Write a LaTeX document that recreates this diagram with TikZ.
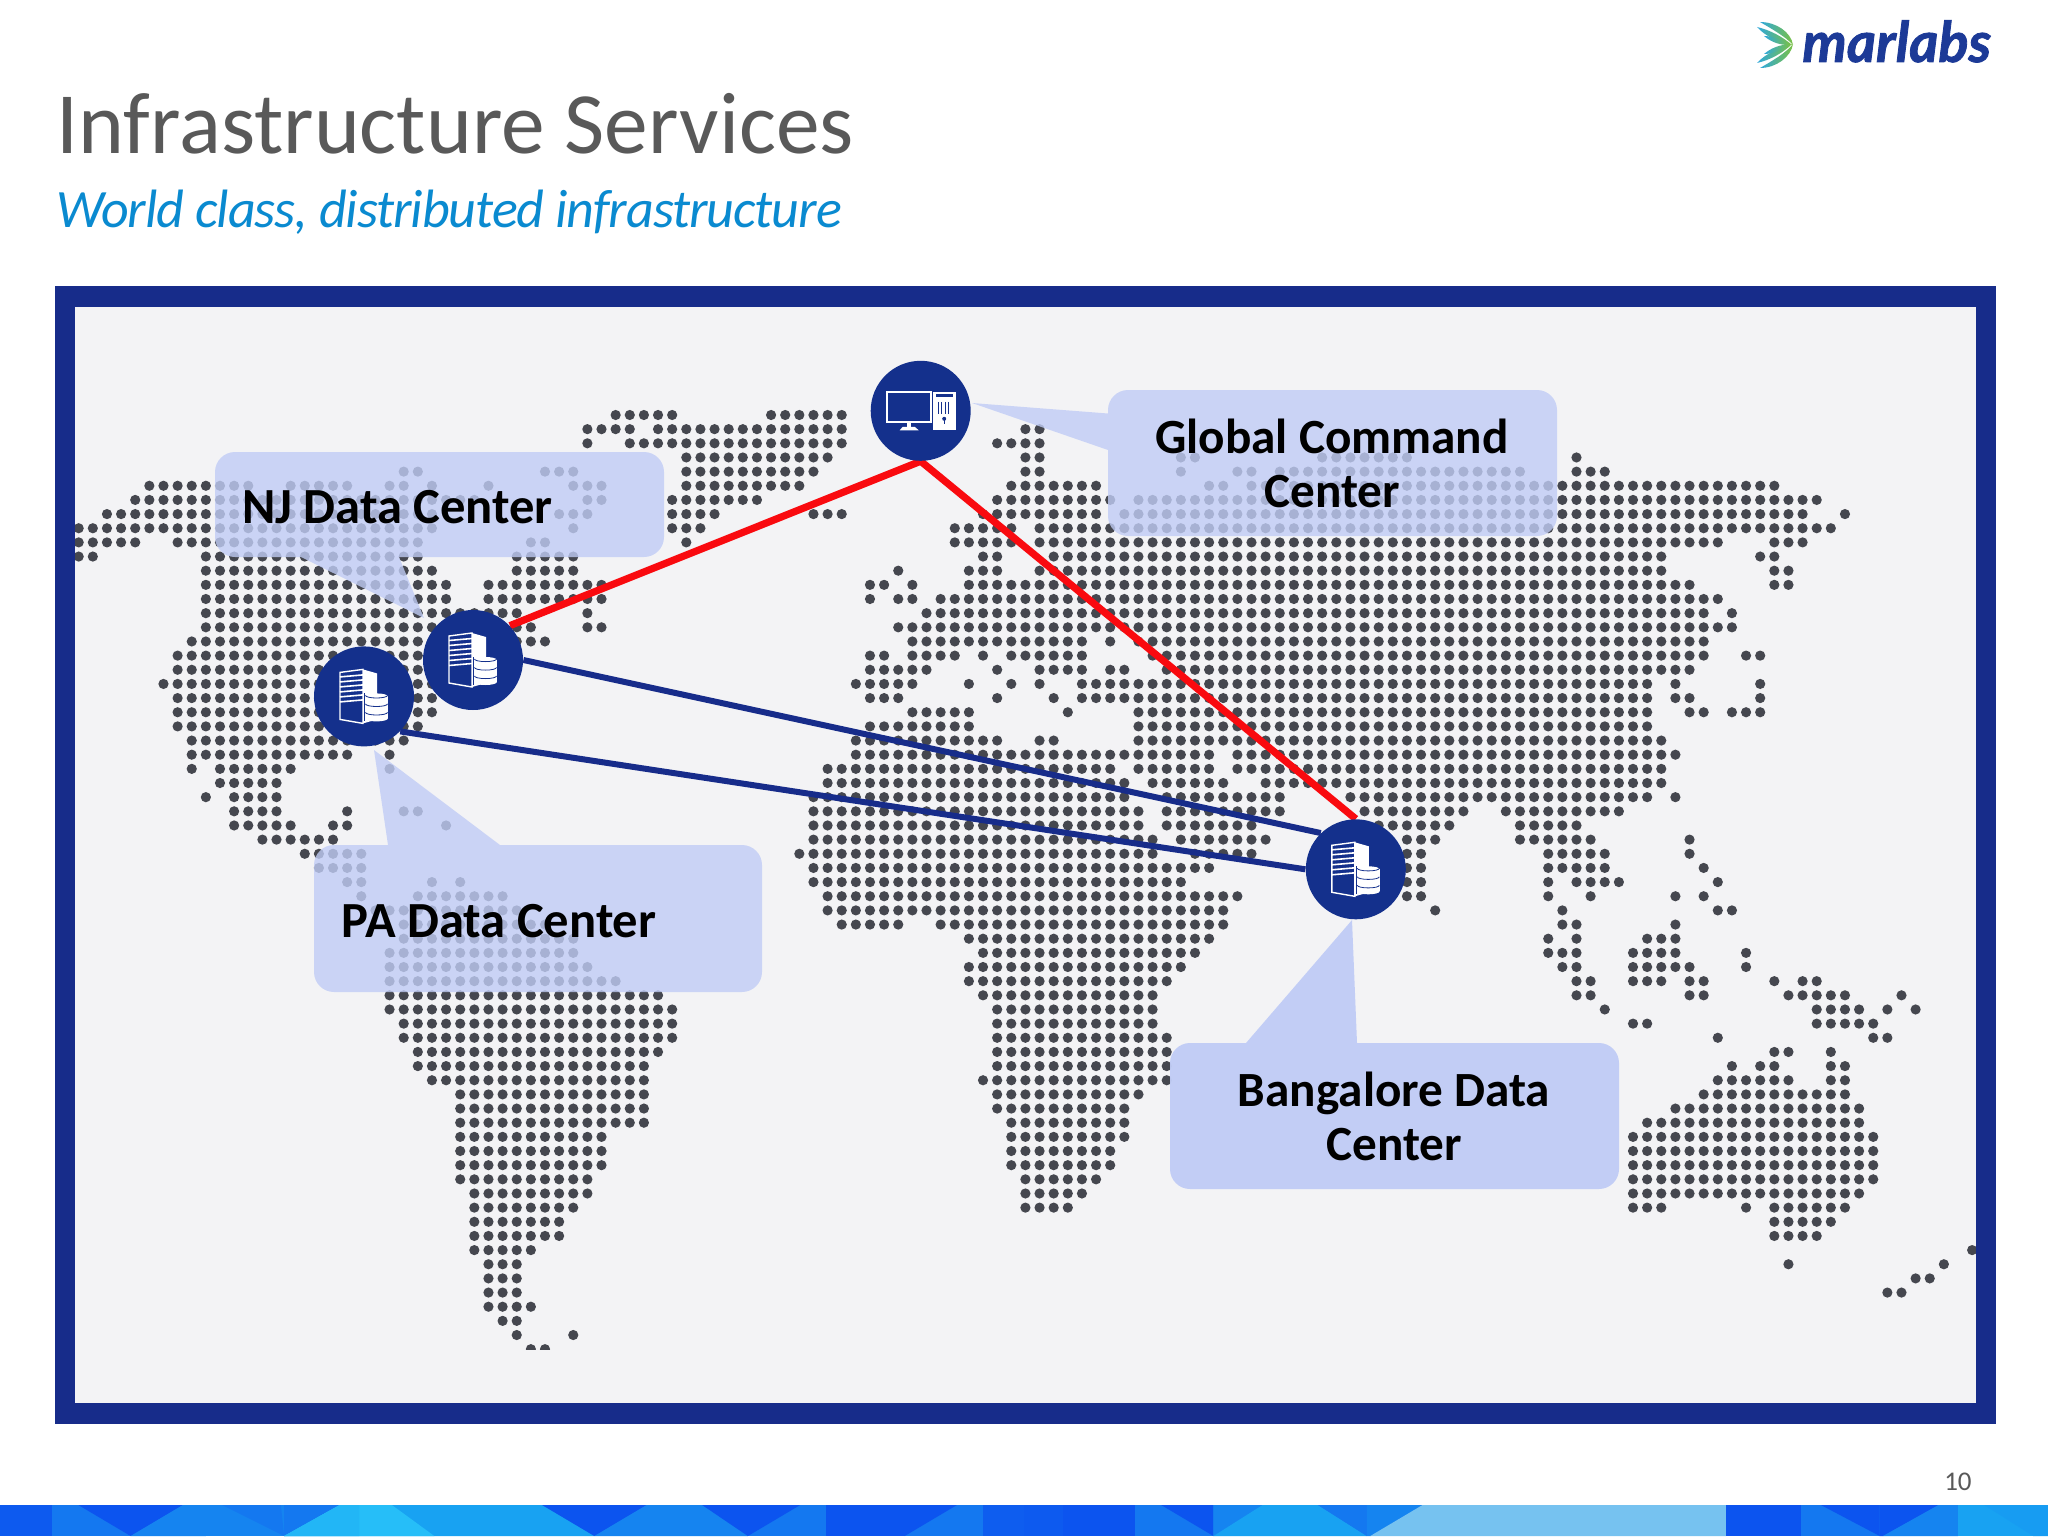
\documentclass[tikz,border=0pt]{standalone}
\usepackage{fontspec}
\setmainfont{Carlito}
\newfontfamily\logofont[FakeBold=1.5]{Lato}
\definecolor{framec}{HTML}{172C8A}
\definecolor{navyc}{HTML}{14308C}
\definecolor{mapbg}{HTML}{F3F3F5}
\definecolor{dotc}{HTML}{45474F}
\definecolor{balc}{HTML}{C0CCF5}
\definecolor{titlec}{HTML}{595959}
\definecolor{subc}{HTML}{0A8AD0}
\definecolor{redc}{HTML}{F90A0F}
\definecolor{logoc}{HTML}{1C3A97}
\definecolor{ribc}{HTML}{2FA8DC}
\definecolor{ribg}{HTML}{7AC143}
\definecolor{bdark}{HTML}{0C54EF}
\definecolor{bmid}{HTML}{1478F0}
\definecolor{bmidb}{HTML}{1584F0}
\definecolor{blight}{HTML}{18A2F2}
\definecolor{bcyan}{HTML}{26BEF8}
\definecolor{bpale}{HTML}{76C2F0}
\tikzset{
  mapdot/.style={fill=dotc},
  balloonfill/.style={fill=balc,fill opacity=.8},
  solidballoon/.style={fill=balc,fill opacity=.96},
  hub/.style={circle,minimum size=50pt,inner sep=0pt},
  redlink/.style={draw=redc,line width=3.6pt},
  bluelink/.style={draw=framec,line width=3pt},
  balloontext/.style={font=\fontsize{24.6}{27}\selectfont\bfseries,text=black,align=center,inner sep=0pt},
  bigballoontext/.style={font=\fontsize{25.3}{27}\selectfont\bfseries,text=black,inner sep=0pt},
}
\newcommand\drow[2]{\fill[mapdot] \foreach \a/\b in {#2}{\foreach \c in {\a,...,\b}{({78.7+14.13*\c},{415+14.154*#1}) circle[radius=2.55pt]}};}
% style, l t r b, inserts on top, bottom, left edge
\newcommand\balloon[8]{\fill[#1] ({#2+20},#3) #6 -- ({#4-20},#3) arc[start angle=90,end angle=0,radius=10pt] -- (#4,{#5-20}) arc[start angle=0,end angle=-90,radius=10pt] #7 -- ({#2+20},#5) arc[start angle=-90,end angle=-180,radius=10pt] #8 -- (#2,{#3+20}) arc[start angle=180,end angle=90,radius=10pt] -- cycle;}
\newcommand\servericon[2]{\begin{scope}[shift={(#1,#2)}]
  \fill[white] (-1,-27) -- (13,-23) -- (13,23) -- (-1,27) -- cycle;
  \draw[white,line width=.7pt] (-24,-24) -- (-1,-27) -- (-1,27) -- (-24,23) -- cycle;
  \foreach \s in {-19.5,-14.5,-9.5,-4.5,0.5,5.5}{\draw[white,line width=.8pt] (-24,\s) -- (-1,{\s-2});}
  \fill[white] (1,0) rectangle (24,22);
  \fill[white] (12.5,0) ellipse[x radius=5.7pt,y radius=1.5pt];
  \fill[white] (12.5,22) ellipse[x radius=5.7pt,y radius=1.5pt];
  \draw[navyc,line width=.4pt] (1.5,-1) arc[start angle=180,end angle=360,x radius=5.5pt,y radius=1.3pt];
  \draw[navyc,line width=.4pt] (1.5,7.5) arc[start angle=180,end angle=360,x radius=5.5pt,y radius=1.3pt];
  \draw[navyc,line width=.4pt] (1.5,16) arc[start angle=180,end angle=360,x radius=5.5pt,y radius=1.3pt];
  \draw[navyc,line width=.5pt] (0.5,-3) -- (0.5,25);
\end{scope}}
\newcommand\ribbon[1]{\shade[left color=ribc,right color=ribg] #1;}
\begin{document}
\begin{tikzpicture}[x=0.5pt,y=-0.5pt]
\useasboundingbox (0,0) rectangle (2048,1536);
\fill[white] (0,0) rectangle (2048,1536);
\fill[mapbg] (60,295) rectangle (1990,1415);
% dotted world map
\drow{0}{38/42,49/54}
\drow{1}{36/39,41/54,67/68}
\drow{2}{36,39/54,65/68}
\drow{3}{43/53,67/68,78/79,88/94,106}
\drow{4}{23/24,33/35,43/52,67/68,78,82/83,85/102,106/108}
\drow{5}{5/12,15/19,22/23,25,29,35/37,43/51,66/72,80/81,83/120}
\drow{6}{4/28,36/37,42/48,65/73,75/123}
\drow{7}{2/25,34/36,42/45,52/54,64/72,74/122,125}
\drow{8}{0/25,35,42/44,62/66,68/124}
\drow{9}{0/4,7/24,32/33,43,62/66,68/116,120/122}
\drow{10}{0/1,9/24,31/35,64/65,69/112,119/120}
\drow{11}{9/25,31/35,58,63/65,68/112,120/121}
\drow{12}{9/26,29/37,56/57,59,63/114,120/121}
\drow{13}{9/26,29/37,56,58/59,61/116}
\drow{14}{9/31,36,60/115,117}
\drow{15}{9/32,36/37,58/117}
\drow{16}{8/33,59/71,73,75/115}
\drow{17}{7/30,56/57,59/62,64,66/71,76/115,118/119}
\drow{18}{7/30,56/60,65,68/71,73/74,77/114}
\drow{19}{6/26,55/59,63,66,68,71/111,113,119}
\drow{20}{7/25,56/58,65,69,71/111,113/114,119}
\drow{21}{7/25,59/63,70,75/111,114/115,117/119}
\drow{22}{7/24,56/63,75/111}
\drow{23}{8/23,55/65,68/69,75/112}
\drow{24}{8/19,22,55/80,82/113}
\drow{25}{8,10/15,22,53/73,75/80,82/112}
\drow{26}{10/14,53/74,76/81,84/112}
\drow{27}{9,11/14,52/74,77/85,90/111,113}
\drow{28}{11/14,19,23/24,52/75,77/85,91/98,101/109}
\drow{29}{11/15,18/19,26,52/75,77/83,92/97,102/106}
\drow{30}{13/18,52/76,78/84,94/96,102/107,114}
\drow{31}{16/20,51/76,79/83,94/95,104/108,114}
\drow{32}{17/20,52/80,94/95,104/108,115}
\drow{33}{19/20,25,27,52/78,94/95,104,106/109,116}
\drow{34}{20,24/30,53/82,94/95,104,107,113,115}
\drow{35}{21/31,53/81,96,105,116/117}
\drow{36}{23/33,54/58,61/81,105/106,113}
\drow{37}{23/35,63/80,104,106,111/113}
\drow{38}{22/35,64/79,104/106,110/113,118}
\drow{39}{22/36,63/78,105/106,110/114,118}
\drow{40}{22/38,63/77,106/107,110/112,114/115,120,122/123}
\drow{41}{22/41,64/76,106/107,114/115,121/125,129}
\drow{42}{22/42,65/76,108,123/126,128,130}
\drow{43}{23/42,65/76,110/111,123/127}
\drow{44}{23/42,65/77,116,127/128}
\drow{45}{24/41,65/77,120/121,124}
\drow{46}{24/40,65/77,117,119/120,124/125}
\drow{47}{25/40,64/77,116/121,124/125}
\drow{48}{27/40,65/75,115/125}
\drow{49}{27/40,65/74,113/126}
\drow{50}{27/40,66/74,111/126}
\drow{51}{27/37,66/74,110/127}
\drow{52}{27/37,66/73,110/127}
\drow{53}{27/37,66/73,110/127}
\drow{54}{27/36,67/72,110/127}
\drow{55}{28/36,67/71,110/126}
\drow{56}{28/35,67/70,110/112,118,120/125}
\drow{57}{28/34,120/124}
\drow{58}{28/34,120/123}
\drow{59}{28/32,134}
\drow{60}{29/31,121,132}
\drow{61}{29/31,130/131}
\drow{62}{29/31,128/129}
\drow{63}{29/32}
\drow{64}{30/31}
\drow{65}{31,35}
\drow{66}{32/33}
\fill[mapbg] (420,1349.5) rectangle (600,1362);
% frame
\draw[framec,line width=10.3pt] (65,296.5) rectangle (1986,1413.7);
% balloons
\balloon{balloonfill}{215}{452}{664}{557}{}{-- (399,557) -- (424,618) -- (301,557)}{}
\balloon{balloonfill}{314}{845}{762}{992}{-- (388,845) -- (374,750) -- (500,845)}{}{}
\balloon{balloonfill}{1108}{390}{1557}{536}{}{}{-- (1108,450) -- (972,403) -- (1108,413.5)}
\balloon{solidballoon}{1170}{1043}{1619}{1189}{-- (1246,1043) -- (1352,920) -- (1357,1043)}{}{}
% hubs and links
\node[hub] (gcc) at (920.7,410.8) {};
\node[hub] (nj) at (473,660) {};
\node[hub] (pa) at (364,696.4) {};
\node[hub] (blr) at (1355.8,869.3) {};
\draw[redlink] (gcc.south) -- (nj.43);
\draw[redlink] (gcc.south) -- (blr.north);
\draw[bluelink] (nj.0) -- (blr.134);
\draw[bluelink] (pa.-44) -- (blr.180);
\fill[navyc] (gcc) circle[radius=25pt];
\fill[navyc] (nj) circle[radius=25pt];
\fill[navyc] (pa) circle[radius=25pt];
\fill[navyc] (blr) circle[radius=25pt];
\servericon{473}{660}
\servericon{364}{696.4}
\servericon{1355.8}{869.3}
\begin{scope}[shift={(920.7,410.8)}]
  \draw[white,line width=.8pt] (-34,-19) rectangle (10,11);
  \fill[white] (-13.5,11) rectangle (-10,17);
  \fill[white] (-21,19.5) -- (-18,16) -- (-6,16) -- (-2,19.5) -- cycle;
  \fill[white] (12.7,-19) rectangle (35,19.5);
  \fill[navyc] (15.5,-16.5) rectangle (32,-14);
  \foreach \s in {17.5,21,24.5,28}{\draw[navyc,line width=.5pt] (\s,-9) -- (\s,3);}
  \fill[navyc] (23.5,8) circle[radius=1pt];
  \draw[navyc,line width=.4pt] (23.5,9) -- (23.5,13);
\end{scope}
% balloon labels
\node[bigballoontext,anchor=base] (njt) at (397.5,523) {NJ Data Center};
\node[bigballoontext,anchor=base] (pat) at (499,937) {PA Data Center};
\node[balloontext] (gct) at (1332,463.5) {Global Command\\Center};
\node[balloontext] (blt) at (1394,1116.5) {Bangalore Data\\Center};
% title
\node[anchor=base west,inner sep=0pt,text=titlec,font=\fontsize{43.7}{46}\selectfont] (title) at (56,154) {Infrastructure Services};
\node[anchor=base west,inner sep=0pt,text=subc,font=\fontsize{27}{30}\selectfont\itshape\addfontfeature{LetterSpace=-2}] (subtitle) at (56,227) {World class, distributed infrastructure};
% logo
\node[anchor=base west,inner sep=0pt,text=logoc,font=\fontsize{28}{30}\logofont\selectfont\bfseries\itshape] (logo) at (1802,62) {marlabs};
\ribbon{(1760,22) .. controls (1776,22) and (1791,32) .. (1793,45) .. controls (1786,37) and (1772,29) .. (1760,22)}
\ribbon{(1757,27) .. controls (1770,30) and (1783,37) .. (1792,45) .. controls (1780,43) and (1766,37) .. (1757,27)}
\ribbon{(1764,36) .. controls (1772,36) and (1782,40) .. (1791,45) .. controls (1780,45.5) and (1771,42) .. (1764,36)}
\ribbon{(1760,68) .. controls (1776,68) and (1791,57) .. (1793,44) .. controls (1786,53) and (1772,61) .. (1760,68)}
\ribbon{(1757,63) .. controls (1770,60) and (1783,53) .. (1792,44) .. controls (1780,48) and (1766,53) .. (1757,63)}
\ribbon{(1764,54) .. controls (1772,54) and (1782,50) .. (1791,44) .. controls (1780,44.5) and (1771,48) .. (1764,54)}
% page number
\node[anchor=base east,inner sep=0pt,text=titlec,font=\fontsize{13.5}{15}\selectfont] (pagenum) at (1972,1490) {10};
% footer band
\fill[bmid] (0,1505) rectangle (2048,1536);
\begin{scope}[x=0.3266pt]
\fill[bdark!85!bmid] (0,1505) rectangle (80,1536);
\fill[bdark] (120,1505) -- (280,1505) -- (200,1536) -- cycle;
\fill[bmidb] (200,1536) -- (280,1505) -- (315,1505) -- (315,1536) -- cycle;
\fill[bmidb] (315,1505) rectangle (435,1536);
\fill[bmid] (340,1505) -- (430,1505) -- (435,1536) -- cycle;
\fill[blight] (435,1536) -- (520,1505) -- (830,1505) -- (910,1536) -- cycle;
\fill[bcyan] (435,1536) -- (520,1505) -- (600,1505) -- (665,1536) -- cycle;
\fill[bcyan!70!blight] (435,1536) -- (520,1505) -- (550,1505) -- (550,1536) -- cycle;
\fill[bdark] (830,1505) -- (990,1505) -- (910,1536) -- cycle;
\fill[bmidb] (910,1536) -- (990,1505) -- (1075,1505) -- (1145,1536) -- cycle;
\fill[bdark] (1075,1505) -- (1225,1505) -- (1145,1536) -- cycle;
\fill[bdark] (1265,1505) rectangle (1385,1536);
\fill[bdark] (1385,1505) -- (1465,1505) -- (1385,1536) -- cycle;
\fill[bdark!75!bmid] (1505,1505) rectangle (1568,1536);
\end{scope}
\begin{scope}[shift={(1024,0)},x=0.3266pt]
\fill[bdark!85!bmid] (0,1505) rectangle (60,1536);
\fill[bdark] (60,1505) rectangle (170,1536);
\fill[bdark] (210,1505) -- (290,1505) -- (290,1536) -- cycle;
\fill[bmidb] (290,1505) -- (365,1505) -- (290,1536) -- cycle;
\fill[blight] (290,1536) -- (365,1505) -- (450,1505) -- (525,1536) -- cycle;
\fill[bmid] (450,1505) -- (525,1505) -- (525,1536) -- cycle;
\fill[bmidb] (525,1505) -- (610,1505) -- (530,1536) -- (525,1536) -- cycle;
\fill[bpale] (610,1505) -- (1075,1505) -- (1075,1536) -- (530,1536) -- cycle;
\fill[bdark] (1075,1505) rectangle (1190,1536);
\fill[bdark] (1220,1505) -- (1310,1505) -- (1310,1536) -- cycle;
\fill[bdark] (1310,1505) -- (1400,1505) -- (1315,1536) -- (1310,1536) -- cycle;
\fill[bmidb] (1315,1536) -- (1400,1505) -- (1430,1505) -- (1430,1536) -- cycle;
\fill[blight] (1430,1505) rectangle (1568,1536);
\fill[blight!85!bmid] (1470,1505) -- (1568,1505) -- (1568,1536) -- (1545,1536) -- cycle;
\end{scope}
\end{tikzpicture}
\end{document}
